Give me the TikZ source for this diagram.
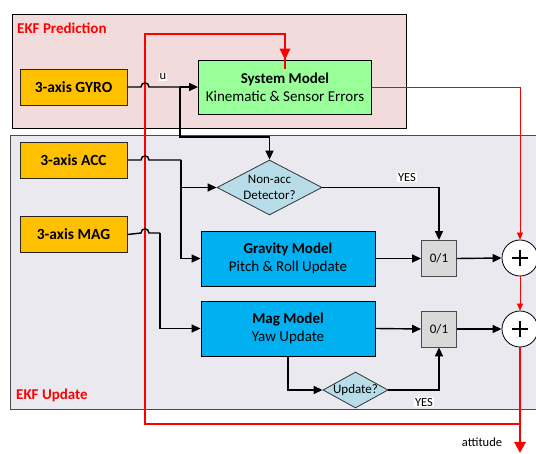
\documentclass[tikz,border=0pt]{standalone}
\usepackage{fontspec}
\setmainfont{Carlito}
\usetikzlibrary{arrows.meta,shapes.geometric}
\definecolor{predbg}{RGB}{242,220,219}
\definecolor{updbg}{RGB}{235,233,240}
\definecolor{sensorc}{RGB}{255,192,0}
\definecolor{sysc}{RGB}{153,255,153}
\definecolor{bluec}{RGB}{0,176,240}
\definecolor{diac}{RGB}{183,222,232}
\definecolor{gatec}{RGB}{217,217,217}
\begin{document}
\begin{tikzpicture}[x=1pt,y=-1pt,line join=miter,
  sensor/.style={draw=black!85,line width=0.8pt,fill=sensorc,minimum width=107pt,minimum height=36pt,inner sep=0pt,font=\fontsize{15.5}{17}\selectfont\bfseries},
  model/.style={draw=black,line width=0.8pt,minimum width=174pt,minimum height=55pt,inner sep=0pt,align=center,font=\fontsize{15}{18}\selectfont},
  dia/.style={diamond,draw=black!80,line width=0.8pt,fill=diac,inner sep=0pt},
  gate/.style={draw=black!70,line width=0.8pt,fill=gatec,minimum width=35pt,minimum height=36pt,inner sep=0pt,font=\fontsize{13}{15}\selectfont},
  plus/.style={circle,draw=black,line width=0.8pt,fill=white,minimum size=36pt,inner sep=0pt,
    path picture={\draw[line width=2.4pt] ([xshift=-8pt]path picture bounding box.center) -- ([xshift=8pt]path picture bounding box.center);
                  \draw[line width=2.4pt] ([yshift=-8pt]path picture bounding box.center) -- ([yshift=8pt]path picture bounding box.center);}},
  blk/.style={line width=1.4pt,black},
  barrow/.style={blk,-{Triangle[length=9pt,width=8pt]}},
  rthin/.style={red,line width=0.8pt,-{Triangle[length=7pt,width=6pt]}},
  rthick/.style={red,line width=2.8pt},
  small/.style={font=\fontsize{12.5}{14}\selectfont,inner sep=1pt}
]
\useasboundingbox (0,0) rectangle (536,454);
% regions
\node[fill=predbg,draw=black,line width=1pt,minimum width=394pt,minimum height=114pt,anchor=north west,inner sep=0pt] (pred) at (12,14) {};
\node[fill=updbg,draw=black!70,line width=1pt,minimum width=540pt,minimum height=274pt,anchor=north west,inner sep=0pt] (upd) at (10,135) {};
\node[anchor=west,text=red,font=\fontsize{15}{17}\selectfont\bfseries,inner sep=0pt] (predlbl) at (17,28) {EKF Prediction};
\node[anchor=west,text=red,font=\fontsize{15}{17}\selectfont\bfseries,inner sep=0pt] (updlbl) at (16,395) {EKF Update};
% sensors
\node[sensor] (gyro) at (73.5,87) {3-axis GYRO};
\node[sensor] (acc) at (73.5,160) {3-axis ACC};
\node[sensor] (mag) at (73.5,234.5) {3-axis MAG};
% models
\node[model,fill=sysc,minimum width=173pt,minimum height=54pt] (sys) at (285,87) {\textbf{System Model}\\Kinematic \& Sensor Errors};
\node[model,fill=bluec] (grav) at (288,258.5) {\textbf{Gravity Model}\\Pitch \& Roll Update};
\node[model,fill=bluec] (magm) at (288,328.5) {\textbf{Mag Model}\\Yaw Update};
% diamonds
\node[dia,minimum width=105pt,minimum height=55pt] (det) at (269.5,187.5) {};
\node[font=\fontsize{13}{16}\selectfont,align=center,inner sep=0pt] (dettxt) at (det) {Non-acc\\Detector?};
\node[dia,minimum width=65pt,minimum height=36pt] (updq) at (355.5,390) {};
\node[font=\fontsize{13}{15}\selectfont,inner sep=0pt] (updtxt) at (updq) {Update?};
% gates and sums
\node[gate] (g1) at (439,258.5) {0/1};
\node[gate] (g2) at (439,329) {0/1};
\node[plus] (p1) at (520,258) {};
\node[plus] (p2) at (520,329) {};
% coordinates
\coordinate (gj) at (180,87);
\coordinate (gb) at (180,137);
\coordinate (aj) at (181,160);
\coordinate (mj) at (160,233);
\coordinate (rt) at (145,34);
\coordinate (rb) at (145,424);
\coordinate (out) at (520,453);
% thick red feedback
\draw[rthick] (p2.south |- rb) -- (rb) -- (rt) -| ([yshift=-9pt]sys.north);
\fill[red] (sys.north) -- ++(-5.5,-11) -- ++(11,0) -- cycle;
\draw[rthick,-{Triangle[length=11pt,width=11pt]}] (p2.south) -- (out);
% sensor lines with jumps
\draw[blk] (gyro.east) -- (141,87) .. controls (141,81.5) and (149,81.5) .. (149,87) -- (gj);
\draw[barrow] (gj) -- (sys.west);
\draw[barrow] (gj) -- (gb) -| (det.north);
\draw[blk] (acc.east) -- (141,160) .. controls (141,154.5) and (149,154.5) .. (149,160) -- (aj);
\draw[barrow] (aj) |- (grav.west);
\draw[barrow] (aj |- det.west) -- (det.west);
\draw[blk] (mag.east) -- (141,233) .. controls (141,227.5) and (149,227.5) .. (149,233) -- (mj);
\draw[barrow] (mj) |- (magm.west);
% model to gates
\draw[barrow] (det.east) -| (g1.north);
\draw[barrow] (grav.east) -- (g1.west);
\draw[barrow] (g1.east) -- (p1.west);
\draw[barrow] (magm.east) -- (g2.west);
\draw[barrow] (g2.east) -- (p2.west);
\draw[barrow] (magm.south) |- (updq.west);
\draw[barrow] (updq.east) -| (g2.south);
% thin red
\draw[rthin] (sys.east) -| (p1.north);
\draw[rthin] (p1.south) -- (p2.north);
% labels
\node[small,fill=white] (ulbl) at (163,77) {u};
\node[small,fill=white] (yes1) at (407,177) {YES};
\node[small,fill=white] (yes2) at (424,402) {YES};
\node[small] (att) at (482,442) {attitude};
\end{tikzpicture}
\end{document}
